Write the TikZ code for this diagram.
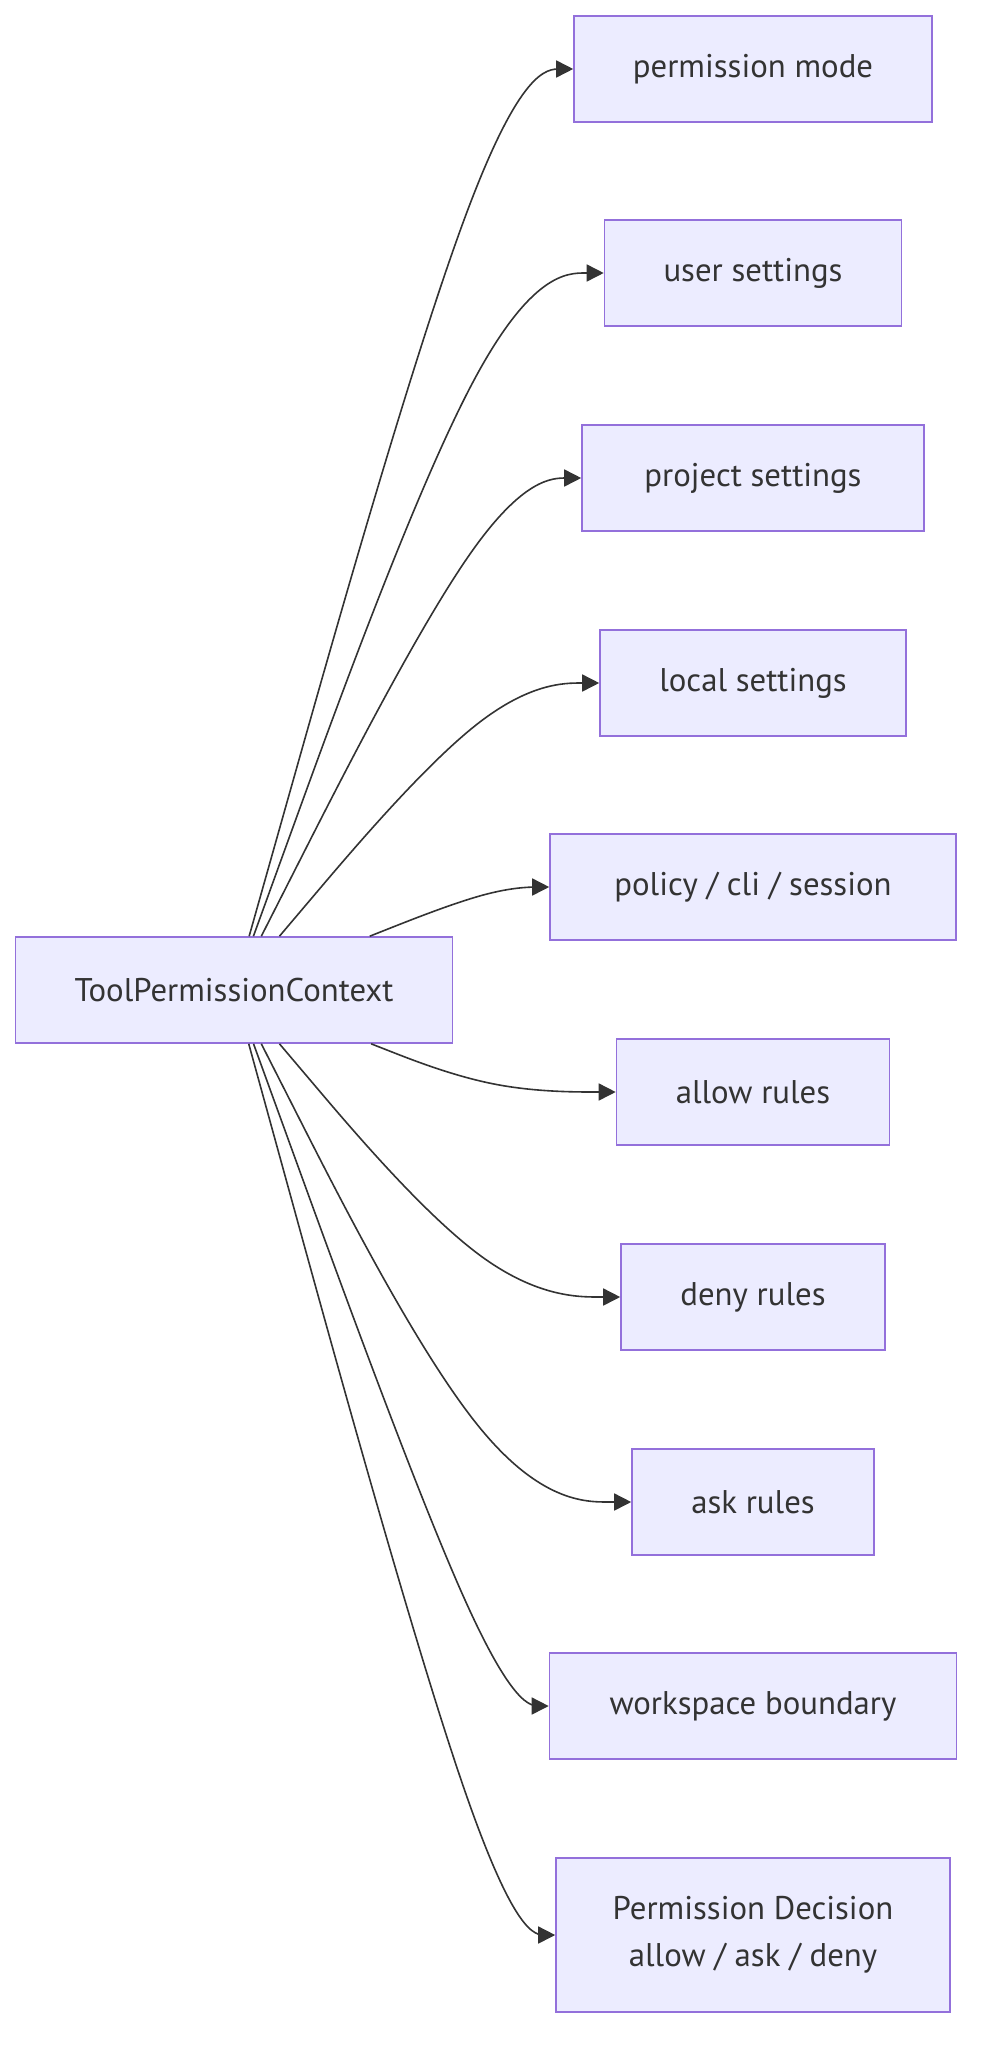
\documentclass[tikz,border=0pt]{standalone}
\usepackage{fontspec}
\setmainfont{PT Sans}
\usetikzlibrary{arrows.meta,calc}

\definecolor{boxfill}{HTML}{ECECFF}
\definecolor{boxline}{HTML}{9370DB}
\definecolor{ink}{HTML}{333333}

\tikzset{
  box/.style={draw=boxline, fill=boxfill, line width=0.8pt, text=ink,
    minimum height=53pt, inner sep=0pt, align=center,
    font=\fontsize{16.4pt}{23.5pt}\selectfont},
  link/.style={draw=ink, line width=0.8pt, -{Triangle[length=8.5pt,width=8.5pt]}}
}

% basis curve from the context box to #1, bending on the middle rank
\newcommand{\ctxlink}[1]{%
  \coordinate (b-#1) at (#1.west -| mid);
  \path (ctx) -- (b-#1) coordinate[pos=0] (s-#1);
  \coordinate (d-#1) at ($(s-#1)!2/3!(b-#1)$);
  \coordinate (e-#1) at ($(b-#1)!1/3!(#1.west)$);
  \draw[link] (s-#1) -- ($(s-#1)!1/6!(b-#1)$)
    .. controls ($(s-#1)!1/3!(b-#1)$) and (d-#1) .. ($(d-#1)!0.5!(e-#1)$)
    .. controls (e-#1) and ($(b-#1)!2/3!(#1.west)$) .. ($(b-#1)!5/6!(#1.west)$)
    -- (#1.west);
}

\begin{document}
\begin{tikzpicture}[x=0.5pt,y=-0.5pt]
  \useasboundingbox (0,0) rectangle (988,2060);
  % source
  \node[box, minimum width=218.5pt] (ctx) at (234,990) {ToolPermissionContext};
  \coordinate (mid) at (494,0);
  % targets
  \node[box, minimum width=179pt]   (pm)  at (753,69)   {permission mode};
  \node[box, minimum width=148.5pt] (us)  at (753,273)  {user settings};
  \node[box, minimum width=171pt]   (ps)  at (753,478)  {project settings};
  \node[box, minimum width=153pt]   (ls)  at (753,683)  {local settings};
  \node[box, minimum width=203pt]   (pol) at (753,887)  {policy / cli / session};
  \node[box, minimum width=136.5pt] (al)  at (753,1092) {allow rules};
  \node[box, minimum width=132pt]   (dn)  at (753,1297) {deny rules};
  \node[box, minimum width=121pt]   (ak)  at (753,1502) {ask rules};
  \node[box, minimum width=203.5pt] (wb)  at (753,1706) {workspace boundary};
  \node[box, minimum width=197pt, minimum height=77pt] (dec) at (753,1935)
    {Permission Decision\\allow / ask / deny};
  % links
  \ctxlink{pm}
  \ctxlink{us}
  \ctxlink{ps}
  \ctxlink{ls}
  \ctxlink{pol}
  \ctxlink{al}
  \ctxlink{dn}
  \ctxlink{ak}
  \ctxlink{wb}
  \ctxlink{dec}
\end{tikzpicture}
\end{document}
